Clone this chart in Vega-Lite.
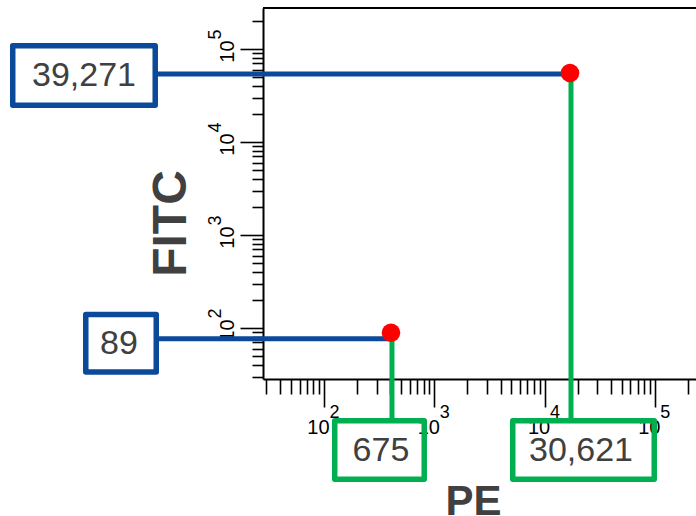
{
  "$schema": "https://vega.github.io/schema/vega-lite/v6.json",
  "autosize": {"type": "none"},
  "padding": {"left": 263, "top": 8, "right": 0, "bottom": 137},
  "width": 433,
  "height": 371,
  "background": "white",
  "config": {
    "view": {"stroke": null},
    "axis": {
      "grid": false,
      "domainColor": "black",
      "domainWidth": 2,
      "tickColor": "black",
      "tickWidth": 1.6,
      "labelFont": "Liberation Sans",
      "labelFontSize": 20,
      "labelColor": "black",
      "labelOverlap": false,
      "labelBound": false,
      "labelFlush": false,
      "titleFont": "Liberation Sans",
      "titleFontWeight": "bold",
      "titleColor": "#404040"
    }
  },
  "resolve": {"axis": {"x": "independent", "y": "independent"}},
  "data": {
    "values": [
      {"pe": 405, "fitc": 89, "peLabel": 675, "fitcLabel": 89},
      {"pe": 17000, "fitc": 55200, "peLabel": 30621, "fitcLabel": 39271}
    ]
  },
  "layer": [
    {
      "mark": {"type": "point", "filled": true, "color": "#ff0000", "opacity": 0, "size": 10},
      "encoding": {
        "x": {
          "field": "pe",
          "type": "quantitative",
          "scale": {"type": "log", "domain": [28, 236000], "nice": false},
          "axis": {
            "orient": "bottom",
            "title": "PE",
            "titleFontSize": 42,
            "titleX": 210,
            "titleY": 135,
            "titleBaseline": "alphabetic",
            "titleAlign": "center",
            "values": [100, 1000, 10000, 100000],
            "tickSize": 28,
            "labelExpr": "'10'",
            "labelAlign": "center",
            "labelBaseline": "top",
            "labelOffset": -6,
            "labelPadding": 10
          }
        },
        "y": {
          "field": "fitc",
          "type": "quantitative",
          "scale": {"type": "log", "domain": [28.3, 276000], "nice": false},
          "axis": {
            "orient": "left",
            "title": "FITC",
            "titleFontSize": 48,
            "titleAngle": -90,
            "titleX": -78,
            "titleY": 215,
            "titleBaseline": "alphabetic",
            "titleAlign": "center",
            "values": [100, 1000, 10000, 100000],
            "tickSize": 23,
            "labelExpr": "'10'",
            "labelAngle": -90,
            "labelAlign": "center",
            "labelBaseline": "alphabetic",
            "labelOffset": 2,
            "labelPadding": 7
          }
        }
      }
    },
    {
      "mark": {"type": "point", "filled": true, "color": "#ff0000", "opacity": 0, "size": 10},
      "encoding": {
        "x": {
          "field": "pe",
          "type": "quantitative",
          "axis": {
            "orient": "bottom",
            "title": null,
            "domain": false,
            "labels": false,
            "values": [30, 40, 50, 60, 70, 80, 90, 200, 300, 400, 500, 600, 700, 800, 900, 2000, 3000, 4000, 5000, 6000, 7000, 8000, 9000, 20000, 30000, 40000, 50000, 60000, 70000, 80000, 90000, 200000],
            "tickSize": 15
          }
        },
        "y": {
          "field": "fitc",
          "type": "quantitative",
          "axis": {
            "orient": "left",
            "title": null,
            "domain": false,
            "labels": false,
            "values": [30, 40, 50, 60, 70, 80, 90, 200, 300, 400, 500, 600, 700, 800, 900, 2000, 3000, 4000, 5000, 6000, 7000, 8000, 9000, 20000, 30000, 40000, 50000, 60000, 70000, 80000, 90000, 200000],
            "tickSize": 11
          }
        }
      }
    },
    {
      "mark": {"type": "point", "filled": true, "color": "#ff0000", "opacity": 0, "size": 10},
      "encoding": {
        "x": {
          "field": "pe",
          "type": "quantitative",
          "axis": {
            "orient": "bottom",
            "title": null,
            "domain": false,
            "ticks": false,
            "values": [100, 1000, 10000, 100000],
            "labelExpr": "datum.value == 100 ? '2' : datum.value == 1000 ? '3' : datum.value == 10000 ? '4' : '5'",
            "labelFontSize": 18,
            "labelAlign": "left",
            "labelBaseline": "top",
            "labelOffset": 5,
            "labelPadding": 24
          }
        },
        "y": {
          "field": "fitc",
          "type": "quantitative",
          "axis": {
            "orient": "left",
            "title": null,
            "domain": false,
            "ticks": false,
            "values": [100, 1000, 10000, 100000],
            "labelExpr": "datum.value == 100 ? '2' : datum.value == 1000 ? '3' : datum.value == 10000 ? '4' : '5'",
            "labelFontSize": 18,
            "labelAngle": -90,
            "labelAlign": "left",
            "labelBaseline": "alphabetic",
            "labelOffset": -10,
            "labelPadding": 43
          }
        }
      }
    },
    {
      "mark": {"type": "rule", "color": "black", "strokeWidth": 2},
      "encoding": {"y": {"datum": 276000, "type": "quantitative", "axis": null}}
    },
    {
      "mark": {"type": "rule", "color": "#0b4a9a", "strokeWidth": 5, "yOffset": {"expr": "datum.fitcLabel == 89 ? 6 : 1"}},
      "encoding": {
        "x": {"field": "pe", "type": "quantitative", "axis": null},
        "x2": {"datum": 2.94},
        "y": {"field": "fitc", "type": "quantitative", "axis": null}
      }
    },
    {
      "mark": {"type": "rule", "color": "#00b050", "strokeWidth": 5, "xOffset": 1},
      "encoding": {
        "x": {"field": "pe", "type": "quantitative", "axis": null},
        "y": {"field": "fitc", "type": "quantitative", "axis": null},
        "y2": {"datum": 10.77}
      }
    },
    {
      "mark": {"type": "point", "filled": true, "color": "#ff0000", "opacity": 1, "size": 346},
      "encoding": {
        "x": {"field": "pe", "type": "quantitative", "axis": null},
        "y": {"field": "fitc", "type": "quantitative", "axis": null}
      }
    },
    {
      "transform": [{"filter": "datum.fitcLabel == 39271"}],
      "layer": [
        {
          "mark": {"type": "point", "shape": "M-1,-0.4175H1V0.4175H-1Z", "size": 20306, "filled": false, "color": "#0b4a9a", "strokeWidth": 5.5, "strokeJoin": "round", "opacity": 1, "yOffset": 2.5},
          "encoding": {"x": {"datum": 0.667, "type": "quantitative", "axis": null}, "y": {"field": "fitc", "type": "quantitative", "axis": null}}
        },
        {
          "mark": {"type": "text", "font": "Liberation Sans", "fontSize": 34, "color": "#404040", "baseline": "middle", "align": "center", "yOffset": 3},
          "encoding": {"x": {"datum": 0.667, "type": "quantitative", "axis": null}, "y": {"field": "fitc", "type": "quantitative", "axis": null}, "text": {"field": "fitcLabel", "type": "quantitative", "format": ","}}
        }
      ]
    },
    {
      "transform": [{"filter": "datum.fitcLabel == 89"}],
      "layer": [
        {
          "mark": {"type": "point", "shape": "M-1,-0.8156H1V0.8156H-1Z", "size": 4970, "filled": false, "color": "#0b4a9a", "strokeWidth": 5.5, "strokeJoin": "round", "opacity": 1, "yOffset": 10.5},
          "encoding": {"x": {"datum": 1.445, "type": "quantitative", "axis": null}, "y": {"field": "fitc", "type": "quantitative", "axis": null}}
        },
        {
          "mark": {"type": "text", "font": "Liberation Sans", "fontSize": 34, "color": "#404040", "baseline": "middle", "align": "center", "yOffset": 11.5, "xOffset": -2},
          "encoding": {"x": {"datum": 1.445, "type": "quantitative", "axis": null}, "y": {"field": "fitc", "type": "quantitative", "axis": null}, "text": {"field": "fitcLabel", "type": "quantitative", "format": ","}}
        }
      ]
    },
    {
      "transform": [{"filter": "datum.peLabel == 675"}],
      "layer": [
        {
          "mark": {"type": "point", "shape": "M-1,-0.6536H1V0.6536H-1Z", "size": 8010, "filled": false, "color": "#00b050", "strokeWidth": 5.5, "strokeJoin": "round", "opacity": 1, "xOffset": -11.5},
          "encoding": {"x": {"field": "pe", "type": "quantitative", "axis": null}, "y": {"datum": 4.88, "type": "quantitative", "axis": null}}
        },
        {
          "mark": {"type": "text", "font": "Liberation Sans", "fontSize": 34, "color": "#404040", "baseline": "middle", "align": "center", "xOffset": -10, "yOffset": 1},
          "encoding": {"x": {"field": "pe", "type": "quantitative", "axis": null}, "y": {"datum": 4.88, "type": "quantitative", "axis": null}, "text": {"field": "peLabel", "type": "quantitative", "format": ","}}
        }
      ]
    },
    {
      "transform": [{"filter": "datum.peLabel == 30621"}],
      "layer": [
        {
          "mark": {"type": "point", "shape": "M-1,-0.4134H1V0.4134H-1Z", "size": 20022, "filled": false, "color": "#00b050", "strokeWidth": 5.5, "strokeJoin": "round", "opacity": 1, "xOffset": 13.5},
          "encoding": {"x": {"field": "pe", "type": "quantitative", "axis": null}, "y": {"datum": 4.88, "type": "quantitative", "axis": null}}
        },
        {
          "mark": {"type": "text", "font": "Liberation Sans", "fontSize": 34, "color": "#404040", "baseline": "middle", "align": "center", "xOffset": 11, "yOffset": 1},
          "encoding": {"x": {"field": "pe", "type": "quantitative", "axis": null}, "y": {"datum": 4.88, "type": "quantitative", "axis": null}, "text": {"field": "peLabel", "type": "quantitative", "format": ","}}
        }
      ]
    }
  ]
}
